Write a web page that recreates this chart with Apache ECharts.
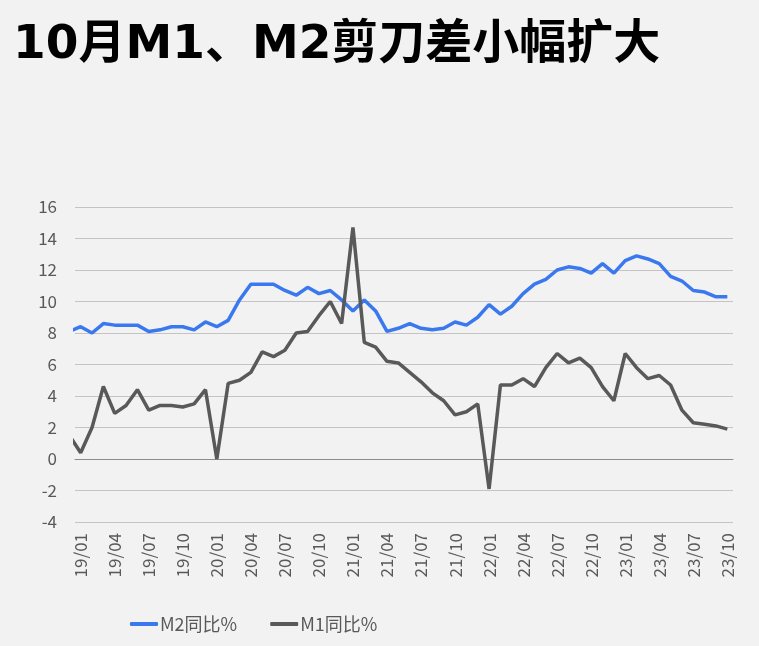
<!DOCTYPE html>
<html>
<head>
<meta charset="utf-8">
<script src="https://cdn.jsdelivr.net/npm/echarts@6/dist/echarts.min.js"></script>
<style>
  html, body { margin: 0; padding: 0; background: #f2f2f2; }
  #chart { width: 759px; height: 646px; }
</style>
</head>
<body>
<div id="chart"></div>
<script>
// months, 18/12 is only there so the line runs in from the left edge
const months = [
  '18/12',
  '19/01', '19/02', '19/03', '19/04', '19/05', '19/06', '19/07', '19/08', '19/09', '19/10', '19/11', '19/12',
  '20/01', '20/02', '20/03', '20/04', '20/05', '20/06', '20/07', '20/08', '20/09', '20/10', '20/11', '20/12',
  '21/01', '21/02', '21/03', '21/04', '21/05', '21/06', '21/07', '21/08', '21/09', '21/10', '21/11', '21/12',
  '22/01', '22/02', '22/03', '22/04', '22/05', '22/06', '22/07', '22/08', '22/09', '22/10', '22/11', '22/12',
  '23/01', '23/02', '23/03', '23/04', '23/05', '23/06', '23/07', '23/08', '23/09', '23/10'
]

const m2 = [
  8.1,
  8.4, 8.0, 8.6, 8.5, 8.5, 8.5, 8.1, 8.2, 8.4, 8.4, 8.2, 8.7,
  8.4, 8.8, 10.1, 11.1, 11.1, 11.1, 10.7, 10.4, 10.9, 10.5, 10.7, 10.1,
  9.4, 10.1, 9.4, 8.1, 8.3, 8.6, 8.3, 8.2, 8.3, 8.7, 8.5, 9.0,
  9.8, 9.2, 9.7, 10.5, 11.1, 11.4, 12.0, 12.2, 12.1, 11.8, 12.4, 11.8,
  12.6, 12.9, 12.7, 12.4, 11.6, 11.3, 10.7, 10.6, 10.3, 10.3
]

const m1 = [
  1.5,
  0.4, 2.0, 4.6, 2.9, 3.4, 4.4, 3.1, 3.4, 3.4, 3.3, 3.5, 4.4,
  0.0, 4.8, 5.0, 5.5, 6.8, 6.5, 6.9, 8.0, 8.1, 9.1, 10.0, 8.6,
  14.7, 7.4, 7.1, 6.2, 6.1, 5.5, 4.9, 4.2, 3.7, 2.8, 3.0, 3.5,
  -1.9, 4.7, 4.7, 5.1, 4.6, 5.8, 6.7, 6.1, 6.4, 5.8, 4.6, 3.7,
  6.7, 5.8, 5.1, 5.3, 4.7, 3.1, 2.3, 2.2, 2.1, 1.9
]

const labelMonths = ['01', '04', '07', '10']
const fontCJK = '"Noto Sans CJK SC", "Noto Sans", sans-serif'

const chart = echarts.init(document.getElementById('chart'))
chart.setOption({
  backgroundColor: '#f2f2f2',
  textStyle: {fontFamily: fontCJK},
  title: {
    text: '10月M1、M2剪刀差小幅扩大',
    left: 8,
    top: 17,
    textStyle: {
      fontSize: 47,
      fontWeight: 'bold',
      color: '#000',
      fontFamily: '"DejaVu Sans", "Noto Sans CJK SC", sans-serif'
    }
  },
  legend: {
    data: ['M2同比%', 'M1同比%'],
    left: 125,
    top: 610,
    icon: 'roundRect',
    itemWidth: 28,
    itemHeight: 4,
    itemGap: 33,
    textStyle: {fontSize: 18, color: '#595959', padding: [0, 0, 0, -3]}
  },
  grid: {left: 75, right: 26, top: 207, bottom: 124},
  xAxis: {
    type: 'category',
    data: months,
    min: 1,
    boundaryGap: true,
    axisLine: {onZero: true, lineStyle: {color: '#8c8c8c', width: 1}},
    axisTick: {show: false},
    axisLabel: {
      rotate: 90,
      fontSize: 17,
      color: '#595959',
      margin: 11,
      interval: (idx, val) => labelMonths.indexOf(val.slice(3)) >= 0
    },
    splitLine: {show: false}
  },
  yAxis: {
    type: 'value',
    min: -4,
    max: 16,
    interval: 2,
    axisLine: {show: false},
    axisTick: {show: false},
    axisLabel: {fontSize: 17, color: '#595959', margin: 18},
    splitLine: {lineStyle: {color: '#c4c4c4', width: 1}}
  },
  series: [
    {
      name: 'M2同比%',
      type: 'line',
      data: m2,
      showSymbol: false,
      color: '#3a78f0',
      lineStyle: {width: 3.5, color: '#3a78f0'}
    },
    {
      name: 'M1同比%',
      type: 'line',
      data: m1,
      showSymbol: false,
      color: '#595959',
      lineStyle: {width: 3.5, color: '#595959'}
    }
  ]
})
</script>
</body>
</html>
